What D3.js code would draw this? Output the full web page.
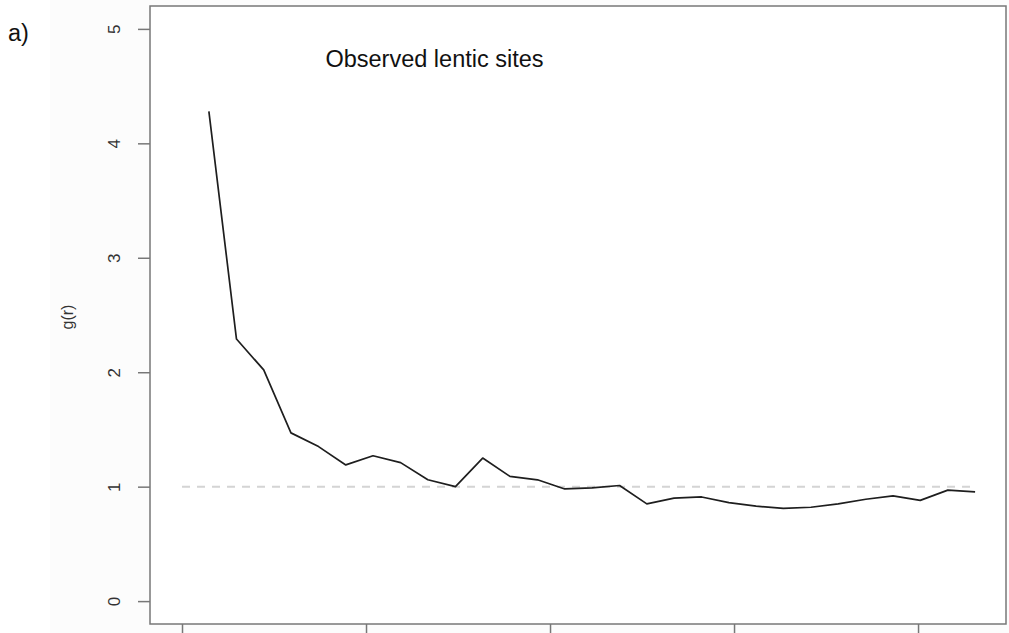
<!DOCTYPE html>
<html>
<head>
<meta charset="utf-8">
<script src="https://cdn.jsdelivr.net/npm/d3@7"></script>
<style>
  html, body { margin: 0; padding: 0; background: #ffffff; }
  svg { display: block; font-family: "Liberation Sans", Arial, sans-serif; }
</style>
</head>
<body>
<svg id="chart" width="1009" height="633"></svg>
<script>
// Pair correlation function g(r) for observed lentic sites
const distances = [73, 148, 222, 296, 371, 445, 519, 594, 668, 743, 817, 891, 966, 1040,
                   1114, 1189, 1263, 1337, 1412, 1486, 1560, 1634, 1709, 1783, 1858, 1932,
                   2006, 2081, 2155];
const gValues   = [4.28, 2.29, 2.02, 1.47, 1.35, 1.19, 1.27, 1.21, 1.06, 1.00, 1.25, 1.09,
                   1.06, 0.98, 0.99, 1.01, 0.85, 0.90, 0.91, 0.86, 0.83, 0.81, 0.82, 0.85,
                   0.89, 0.92, 0.88, 0.97, 0.955];
// Expected value under complete spatial randomness
const theoDistances = [0, 2155];
const theoValues    = [1, 1];

const xTicks = [0, 500, 1000, 1500, 2000];
const yTicks = [0, 1, 2, 3, 4, 5];

const svg = d3.select("#chart");
const W = 1009, H = 633;
const plot = { left: 150, right: 1006, top: 6, bottom: 624 };

// faint figure background
svg.append("rect").attr("x", 50).attr("y", 0).attr("width", W - 50).attr("height", H)
   .attr("fill", "#fcfcfc");

const x = d3.scaleLinear().domain([-87, 2239]).range([plot.left, plot.right]);
const y = d3.scaleLinear().domain([-0.2, 5.2]).range([plot.bottom, plot.top]);

// plot area
svg.append("rect")
   .attr("x", plot.left).attr("y", plot.top)
   .attr("width", plot.right - plot.left).attr("height", plot.bottom - plot.top)
   .attr("fill", "#ffffff");

// reference line g(r) = 1
const theo = theoDistances.map((d, i) => [d, theoValues[i]]);
svg.append("path")
   .datum(theo)
   .attr("d", d3.line().x(d => x(d[0])).y(d => y(d[1])))
   .attr("fill", "none")
   .attr("stroke", "#d4d4d4")
   .attr("stroke-width", 2)
   .attr("stroke-dasharray", "8,7");

// observed curve
const obs = distances.map((d, i) => [d, gValues[i]]);
svg.append("path")
   .datum(obs)
   .attr("d", d3.line().x(d => x(d[0])).y(d => y(d[1])))
   .attr("fill", "none")
   .attr("stroke", "#1e1e1e")
   .attr("stroke-width", 1.7)
   .attr("stroke-linejoin", "round");

// box
svg.append("rect")
   .attr("x", plot.left).attr("y", plot.top)
   .attr("width", plot.right - plot.left).attr("height", plot.bottom - plot.top)
   .attr("fill", "none")
   .attr("stroke", "#777")
   .attr("stroke-width", 1.5);

// y axis
const yAxis = d3.axisLeft(y).tickValues(yTicks).tickSize(12).tickPadding(6)
  .tickFormat(d3.format("d"));
const gy = svg.append("g").attr("transform", `translate(${plot.left},0)`).call(yAxis);
gy.select(".domain").remove();
gy.selectAll(".tick line").attr("stroke", "#777").attr("stroke-width", 1.5);
gy.selectAll(".tick text")
  .attr("fill", "#333")
  .attr("font-size", 17)
  .attr("x", null).attr("dy", null)
  .attr("text-anchor", "middle")
  .attr("transform", "translate(-30,0) rotate(-90)");

// x axis: tick marks only, the labels sit below the drawing area
const xAxis = d3.axisBottom(x).tickValues(xTicks).tickSize(12).tickFormat("");
const gx = svg.append("g").attr("transform", `translate(0,${plot.bottom})`).call(xAxis);
gx.select(".domain").remove();
gx.selectAll(".tick line").attr("stroke", "#777").attr("stroke-width", 1.5);

// y axis title
svg.append("text")
   .attr("transform", "translate(73,317) rotate(-90)")
   .attr("text-anchor", "middle")
   .attr("font-size", 16)
   .attr("fill", "#333")
   .text("g(r)");

// legend-style label with white background
svg.append("rect")
   .attr("x", 277).attr("y", 31).attr("width", 290).attr("height", 49)
   .attr("fill", "#ffffff");
svg.append("text")
   .attr("x", 434.5).attr("y", 67)
   .attr("text-anchor", "middle")
   .attr("font-size", 23.5)
   .attr("fill", "#111")
   .text("Observed lentic sites");

// panel label
svg.append("text")
   .attr("x", 8).attr("y", 41)
   .attr("font-size", 23.5)
   .attr("fill", "#111")
   .text("a)");
</script>
</body>
</html>
